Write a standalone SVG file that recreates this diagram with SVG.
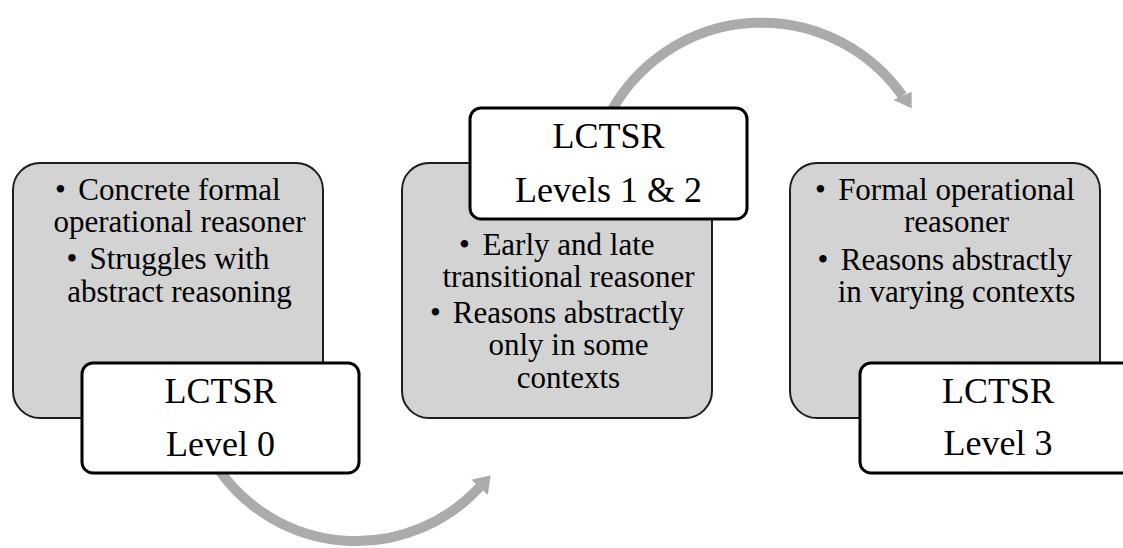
<svg xmlns="http://www.w3.org/2000/svg" width="1123" height="548" viewBox="0 0 1123 548">
  <style>
    .pnl { fill: #d3d3d3; stroke: #1e1e1e; stroke-width: 2; }
    .lbl { fill: #ffffff; stroke: #000000; stroke-width: 3; }
    .tb { font-family: 'Liberation Serif', serif; font-size: 31px; fill: #000; text-anchor: middle; }
    .tu { font-family: 'Liberation Serif', serif; font-size: 31px; fill: #000; text-anchor: start; }
    .tl { font-family: 'Liberation Serif', serif; font-size: 36px; fill: #000; text-anchor: middle; }
    .arc { fill: none; stroke: #ababab; stroke-width: 10; }
    .head { fill: #ababab; }
  </style>
  <rect width="1123" height="548" fill="#ffffff"/>
  <g id="connectors">
    <path class="arc" d="M 219.1 470 A 168 168 0 0 0 479.6 487.2"/>
    <polygon class="head" points="490.7,475.2 471.4,479.7 487.8,494.7"/>
    <path class="arc" d="M 612 110 A 172 172 0 0 1 902.5 95.8"/>
    <polygon class="head" points="911.7,108.3 893.3,100 911.7,91.7"/>
  </g>
  <g id="node-level0">
    <rect class="pnl" x="13" y="163" width="310" height="255" rx="27" ry="27"/>
    <text class="tu" x="55" y="200">•</text>
    <text class="tb" x="179.5" y="200">Concrete formal</text>
    <text class="tb" x="179.5" y="232">operational reasoner</text>
    <text class="tu" x="66.5" y="269">•</text>
    <text class="tb" x="179.5" y="269">Struggles with</text>
    <text class="tb" x="179.5" y="302">abstract reasoning</text>
    <rect class="lbl" x="82" y="363" width="277" height="110" rx="11" ry="11"/>
    <text class="tl" x="220.5" y="403">LCTSR</text>
    <text class="tl" x="220.5" y="456">Level 0</text>
  </g>
  <g id="node-level12">
    <rect class="pnl" x="402" y="163" width="310" height="255" rx="27" ry="27"/>
    <text class="tu" x="459" y="255">•</text>
    <text class="tb" x="568.5" y="255">Early and late</text>
    <text class="tb" x="568.5" y="287">transitional reasoner</text>
    <text class="tu" x="430" y="323">•</text>
    <text class="tb" x="568.5" y="323">Reasons abstractly</text>
    <text class="tb" x="568.5" y="355">only in some</text>
    <text class="tb" x="568.5" y="388">contexts</text>
    <rect class="lbl" x="470" y="108" width="277" height="111" rx="11" ry="11"/>
    <text class="tl" x="608.5" y="148">LCTSR</text>
    <text class="tl" x="608.5" y="202">Levels 1 &amp; 2</text>
  </g>
  <g id="node-level3">
    <rect class="pnl" x="790" y="163" width="310" height="255" rx="27" ry="27"/>
    <text class="tu" x="815" y="200">•</text>
    <text class="tb" x="956.5" y="200">Formal operational</text>
    <text class="tb" x="956.5" y="232">reasoner</text>
    <text class="tu" x="817.5" y="270">•</text>
    <text class="tb" x="956.5" y="270">Reasons abstractly</text>
    <text class="tb" x="956.5" y="302">in varying contexts</text>
    <rect class="lbl" x="860" y="363" width="277" height="110" rx="11" ry="11"/>
    <text class="tl" x="998" y="403">LCTSR</text>
    <text class="tl" x="998" y="455">Level 3</text>
  </g>
</svg>
